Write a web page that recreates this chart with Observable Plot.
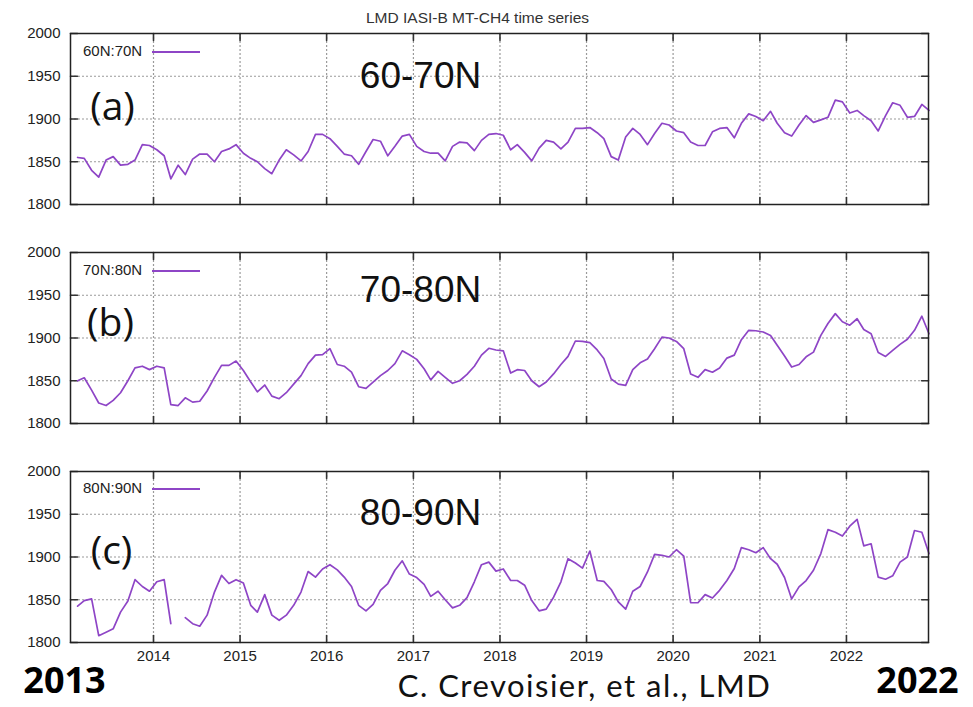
<!DOCTYPE html>
<html><head><meta charset="utf-8">
<script src="https://cdn.jsdelivr.net/npm/d3@7"></script>
<script src="https://cdn.jsdelivr.net/npm/@observablehq/plot@0.6"></script>
<style>
body{margin:0;background:#fff;}
#wrap{position:relative;width:973px;height:707px;overflow:hidden;background:#fff;font-family:"Liberation Sans",Arial,sans-serif;}
.legend{position:absolute;white-space:nowrap;font-size:15px;line-height:18px;color:#222;}
.legend .sw{display:inline-block;width:48px;height:0;border-top:2px solid #8e45c6;vertical-align:middle;margin-left:10px;}
</style></head><body><div id="wrap"></div>
<script>
// ---- data (ppb), monthly Feb 2013 .. Dec 2022 ----
const titleText = "LMD IASI-B MT-CH4 time series";
const seriesNames = ["60N:70N", "70N:80N", "80N:90N"];
const regionLabels = ["60-70N", "70-80N", "80-90N"];
const panelLetters = ["(a)", "(b)", "(c)"];
const yearStartLabel = "2013";
const yearEndLabel = "2022";
const creditText = "C. Crevoisier, et al., LMD";
const tickYears = [2014, 2015, 2016, 2017, 2018, 2019, 2020, 2021, 2022];
const yTicks = [1800, 1850, 1900, 1950, 2000];

const s60_70 = [1855,1854,1840,1832,1852,1856,1846,1847,1852,1870,
1869,1864,1857,1830,1846,1835,1853,1859,1859,1850,
1862,1865,1870,1860,1854,1850,1842,1836,1852,1864,
1858,1851,1862,1882,1882,1877,1868,1859,1857,1847,
1862,1876,1874,1857,1868,1880,1882,1868,1862,1860,
1860,1851,1868,1873,1872,1863,1875,1882,1883,
1881,1864,1870,1861,1851,1866,1875,1873,1865,1873,
1889,1889,1890,1884,1877,1856,1852,1879,1889,1882,
1870,1883,1895,1893,1886,1884,1873,1869,1869,1885,
1889,1890,1878,1895,1906,1903,1898,1909,1895,1884,
1880,1893,1904,1896,1899,1902,1922,1920,1907,1910,
1904,1898,1886,1904,1919,1916,1902,1903,1917,1910];

const s70_80 = [1850,1853.5,1839,1824,1821,1827,1836,1850,1865,1867,
1863,1867,1865,1822,1821,1830,1825,1826,1838,1854,
1868,1868,1873,1862,1848.5,1837,1845,1832,1829,1836,
1846,1856,1870,1880,1880.5,1887.5,1869,1867,1860,1843,
1841,1848.5,1856,1862,1870,1885,1880.5,1875,1864,1851,
1861,1854,1847,1850,1857.5,1867,1880,1888,1886,
1885,1859,1863,1862,1850,1843,1848.5,1858,1869,1878.5,
1896.5,1896,1894.5,1886,1876,1852,1846,1844.5,1863,1871,
1875.5,1887.5,1901,1900,1896,1887.5,1858,1854,1863,1860,
1865,1876.5,1880,1898,1909,1908.5,1907,1903,1891.5,1879,
1866,1869,1878,1883.5,1903,1917,1928.5,1919,1915,1922.5,
1910,1905,1883,1878.5,1885.5,1892.5,1898.5,1909,1925.5,1905];

const s80_90 = [1842.5,1849,1851,1808,1812,1816,1835.5,1848.5,1873.5,1865.5,
1860,1871,1873.5,1822,null,1829,1822,1819,1832,1859,
1878.5,1869,1873.5,1869.5,1843.5,1835.5,1856,1832,1826,1832,
1843.5,1859,1883,1876.5,1886,1891,1885,1876.5,1865.5,1843.5,
1837,1844.5,1861,1869,1884.5,1895.5,1880,1876,1868,1854,
1860,1850,1840.5,1843.5,1852.5,1871,1891,1894,1883.5,
1886,1872.5,1872.5,1867,1849,1837,1839,1853,1871,1898,
1893,1887,1907,1872.5,1871.5,1862,1847.5,1839,1860,1865.5,
1882.5,1903,1902,1900,1908.5,1901,1846.5,1846.5,1856,1852,
1861,1872.5,1886.5,1911,1908.5,1905,1911,1898,1891.5,1876,
1851,1865,1872.5,1884.5,1904,1932,1929,1924.5,1936,1944,
1913,1915.5,1876.5,1874,1878,1894,1900,1931,1929,1904];

const allSeries = [s60_70, s70_80, s80_90];

// ---- build ----
const months = d3.utcMonth.range(new Date(Date.UTC(2013, 1, 1)), new Date(Date.UTC(2023, 0, 1)))
  .map(d => d3.utcDay.offset(d, 14));
const tickDates = tickYears.map(y => new Date(Date.UTC(y, 0, 1)));
const xDomain = [new Date(Date.UTC(2013, 0, 16)), new Date(Date.UTC(2022, 11, 13))];
const lineColor = "#8e45c6";
const tickShape = {draw(context, l) { context.moveTo(0, 0); context.lineTo(0, -l); }};

const panels = [
  {top: 0, mt: 33, mb: 24, letterDy: 74, letterDx: 42, regionDy: 43, legendTop: 42},
  {top: 228, mt: 24, mb: 24, letterDy: 71, letterDx: 40, regionDy: 38, legendTop: 261},
  {top: 447, mt: 24, mb: 65, letterDy: 80, letterDx: 41, regionDy: 41.5, legendTop: 479}
];

const wrap = document.getElementById("wrap");

panels.forEach((p, k) => {
  const dims = {
    width: 973, height: p.mt + 171 + p.mb,
    marginLeft: 70, marginRight: 45, marginTop: p.mt, marginBottom: p.mb
  };

  // layer 1: dotted grid and inward ticks
  const gridChart = Plot.plot({
    ...dims,
    x: {type: "utc", domain: xDomain, axis: null},
    y: {domain: [1800, 2000], axis: null},
    marks: [
      Plot.ruleY(yTicks.slice(1, -1), {stroke: "#9a9a9a", strokeWidth: 1.2, strokeDasharray: "2,2"}),
      Plot.ruleX(tickDates, {stroke: "#9a9a9a", strokeWidth: 1.2, strokeDasharray: "2,2"}),
      Plot.vector(yTicks, {y: d => d, frameAnchor: "left", rotate: 90, length: 7, anchor: "start", shape: tickShape, stroke: "#333", strokeWidth: 1.6}),
      Plot.vector(yTicks, {y: d => d, frameAnchor: "right", rotate: -90, length: 7, anchor: "start", shape: tickShape, stroke: "#333", strokeWidth: 1.6}),
      Plot.vector(tickDates, {x: d => d, frameAnchor: "bottom", rotate: 0, length: 7, anchor: "start", shape: tickShape, stroke: "#333", strokeWidth: 1.6}),
      Plot.vector(tickDates, {x: d => d, frameAnchor: "top", rotate: 180, length: 7, anchor: "start", shape: tickShape, stroke: "#333", strokeWidth: 1.6})
    ]
  });
  gridChart.style.position = "absolute";
  gridChart.style.left = "0px";
  gridChart.style.top = p.top + "px";
  wrap.appendChild(gridChart);

  // layer 2: series, frame, labels
  const data = months.map((d, i) => ({date: d, v: allSeries[k][i]}));
  const marks = [
    Plot.line(data, {x: "date", y: "v", stroke: lineColor, strokeWidth: 1.7}),
    Plot.frame({stroke: "#222", strokeWidth: 1.5}),
    Plot.axisY(yTicks, {anchor: "left", tickSize: 0, tickPadding: 10, fontSize: 15, fill: "#222", tickFormat: d => String(d), label: null}),
    Plot.text([panelLetters[k]], {frameAnchor: "top-left", text: d => d, dx: p.letterDx, dy: p.letterDy, textAnchor: "middle", lineAnchor: "middle", fontSize: 39, fontFamily: "Open Sans", fill: "#111"}),
    Plot.text([regionLabels[k]], {frameAnchor: "top-left", text: d => d, dx: 350, dy: p.regionDy, textAnchor: "middle", lineAnchor: "middle", fontSize: 37, fontFamily: "Liberation Sans", fill: "#111"})
  ];
  if (k === 0) {
    marks.push(Plot.text([titleText], {frameAnchor: "top-left", text: d => d, dx: 407, dy: -15, textAnchor: "middle", lineAnchor: "middle", fontSize: 15.5, fill: "#333"}));
  }
  if (k === 2) {
    marks.push(Plot.axisX(tickDates, {anchor: "bottom", tickSize: 0, tickPadding: 8, fontSize: 15, fill: "#222", tickFormat: d3.utcFormat("%Y"), label: null}));
    marks.push(Plot.text([yearStartLabel], {frameAnchor: "bottom-left", text: d => d, dx: -6, dy: 39, textAnchor: "middle", lineAnchor: "middle", fontSize: 36, fontWeight: "bold", fontFamily: "Open Sans", fill: "#000"}));
    marks.push(Plot.text([yearEndLabel], {frameAnchor: "bottom-left", text: d => d, dx: 847, dy: 39, textAnchor: "middle", lineAnchor: "middle", fontSize: 36, fontWeight: "bold", fontFamily: "Open Sans", fill: "#000"}));
    marks.push(Plot.text([creditText], {frameAnchor: "bottom-left", text: d => d, dx: 514, dy: 45, textAnchor: "middle", lineAnchor: "middle", fontSize: 31, fontFamily: "Lato", fill: "#111"}));
  }
  const chart = Plot.plot({
    ...dims,
    style: {fontFamily: "Liberation Sans, Arial, sans-serif", fontSize: "15px", background: "transparent"},
    x: {type: "utc", domain: xDomain, axis: null, label: null},
    y: {domain: [1800, 2000], axis: null, label: null},
    marks
  });
  d3.select(chart).selectAll("text")
    .filter(function () { return this.textContent === creditText; })
    .attr("letter-spacing", "1.5px");
  chart.style.position = "absolute";
  chart.style.left = "0px";
  chart.style.top = p.top + "px";
  wrap.appendChild(chart);

  const lg = document.createElement("div");
  lg.className = "legend";
  lg.style.left = "83px";
  lg.style.top = p.legendTop + "px";
  lg.innerHTML = `<span>${seriesNames[k]}</span><span class="sw"></span>`;
  wrap.appendChild(lg);
});
</script></body></html>
